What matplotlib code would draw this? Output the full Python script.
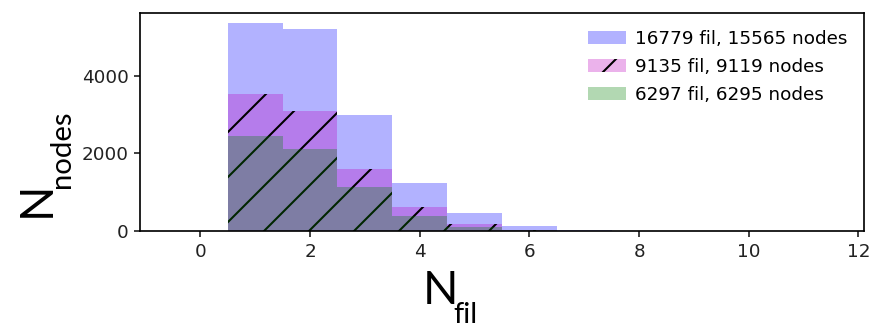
import matplotlib
matplotlib.use('Agg')
import matplotlib.pyplot as plt
import numpy as np

# histogram counts per integer N_fil (bins centred on 0..11)
n_fil = np.arange(0, 12)
all_nodes = [0, 5342, 5204, 2975, 1247, 456, 137, 25, 0, 0, 0, 0]
mid_nodes = [0, 3535, 3096, 1592, 619, 180, 30, 0, 0, 0, 0, 0]
low_nodes = [0, 2433, 2116, 1143, 387, 110, 15, 0, 0, 0, 0, 0]
labels = ['16779 fil, 15565 nodes', '9135 fil, 9119 nodes', '6297 fil, 6295 nodes']

plt.rcParams['hatch.linewidth'] = 0.55
plt.rcParams['axes.linewidth'] = 0.45

W, H = 870, 327
dpi = 270
fig = plt.figure(figsize=(W / dpi, H / dpi), dpi=dpi)
ax = fig.add_axes([0.161, 0.2936, 0.832, 0.6664])

bins = np.arange(-0.5, 12, 1)
ax.hist(n_fil, bins=bins, weights=all_nodes, color='b', alpha=0.3, label=labels[0])
ax.hist(n_fil, bins=bins, weights=mid_nodes, color='m', alpha=0.3, hatch='//', label=labels[1])
ax.hist(n_fil, bins=bins, weights=low_nodes, color='g', alpha=0.3, label=labels[2])

ax.set_xticks([0, 2, 4, 6, 8, 10, 12])
ax.set_yticks([0, 2000, 4000])
ax.tick_params(labelsize=4.9, length=1.6, width=0.45, pad=1.5, colors='#222222')

ax.legend(loc='upper right', fontsize=4.9, frameon=False, handlelength=2.1,
          handleheight=0.7, labelspacing=0.55, handletextpad=0.47, borderaxespad=0.5)

# big axis labels, pasted-on style (N plus large subscript)
def px(x, y):
    return x / W, 1 - y / H

big, small = 12.4, 7.8
fig.text(*px(423, 304), 'N', fontsize=big, family='Lato', ha='left', va='baseline')
fig.text(*px(453, 323), 'fil', fontsize=small, family='Lato', ha='left', va='baseline')
fig.text(*px(50, 217), 'N', fontsize=big, family='Lato', rotation=90,
         rotation_mode='anchor', ha='left', va='baseline')
fig.text(*px(70.5, 188), 'nodes', fontsize=small, family='Lato', rotation=90,
         rotation_mode='anchor', ha='left', va='baseline')

fig.savefig('out.png', dpi=dpi)
